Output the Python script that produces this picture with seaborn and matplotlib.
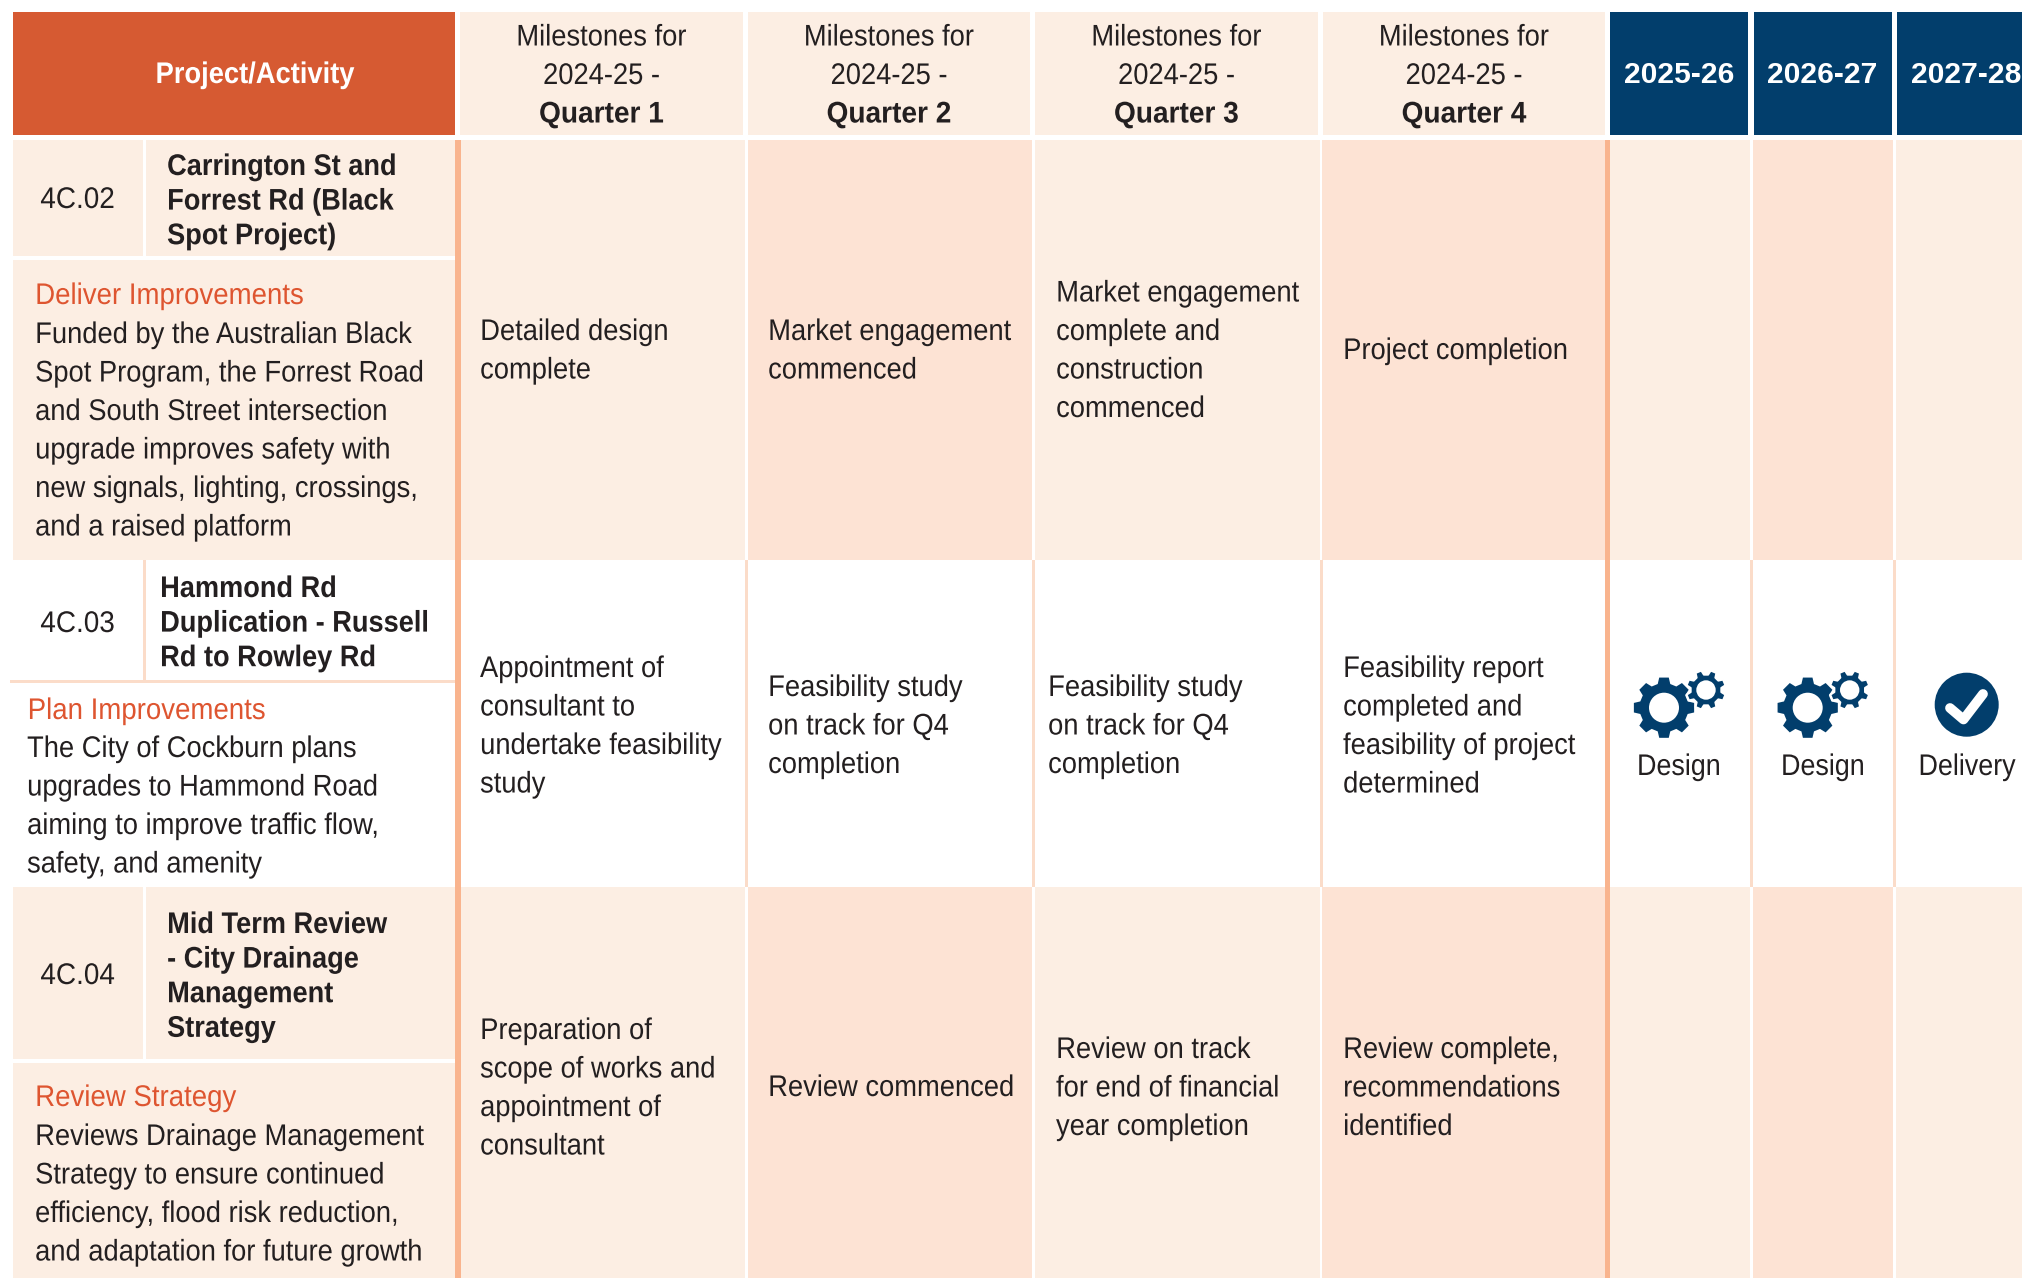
# City project milestones table, drawn on a seaborn heatmap used as the cell background
import numpy as np
import matplotlib
matplotlib.use("Agg")
import matplotlib.pyplot as plt
from matplotlib.colors import ListedColormap
from matplotlib.patches import Polygon, Circle
from matplotlib.patheffects import AbstractPathEffect
from matplotlib.transforms import Affine2D
import seaborn as sns

# Table content
header_left = "Project/Activity"
header_quarters = ["Quarter 1", "Quarter 2", "Quarter 3", "Quarter 4"]
header_intro = ["Milestones for", "2024-25 -"]
header_years = ["2025-26", "2026-27", "2027-28"]

project_ids = ["4C.02", "4C.03", "4C.04"]
project_titles = [
    ["Carrington St and", "Forrest Rd (Black", "Spot Project)"],
    ["Hammond Rd", "Duplication - Russell", "Rd to Rowley Rd"],
    ["Mid Term Review", "- City Drainage", "Management", "Strategy"],
]
project_actions = ["Deliver Improvements", "Plan Improvements", "Review Strategy"]
project_notes = [
    ["Funded by the Australian Black", "Spot Program, the Forrest Road", "and South Street intersection",
     "upgrade improves safety with", "new signals, lighting, crossings,", "and a raised platform"],
    ["The City of Cockburn plans", "upgrades to Hammond Road", "aiming to improve traffic flow,",
     "safety, and amenity"],
    ["Reviews Drainage Management", "Strategy to ensure continued", "efficiency, flood risk reduction,",
     "and adaptation for future growth"],
]
milestones = [
    [["Detailed design", "complete"],
     ["Market engagement", "commenced"],
     ["Market engagement", "complete and", "construction", "commenced"],
     ["Project completion"]],
    [["Appointment of", "consultant to", "undertake feasibility", "study"],
     ["Feasibility study", "on track for Q4", "completion"],
     ["Feasibility study", "on track for Q4", "completion"],
     ["Feasibility report", "completed and", "feasibility of project", "determined"]],
    [["Preparation of", "scope of works and", "appointment of", "consultant"],
     ["Review commenced"],
     ["Review on track", "for end of financial", "year completion"],
     ["Review complete,", "recommendations", "identified"]],
]
year_stages = ["Design", "Design", "Delivery"]

# Layout (pixels of the 2022x1278 picture)
W, H = 2022, 1278
head_top, head_bot = 12, 135
row_edges = [140, 560, 887, 1278]
split_y = [258, 682, 1061]
q_left = [461, 748, 1035, 1322]
q_right = [745, 1032, 1320, 1605]
q_head = [(460, 743), (748, 1030), (1035, 1318), (1323, 1605)]
y_cells = [(1610, 1750), (1753, 1893), (1896, 2022)]
y_head = [(1610, 1748), (1754, 1892), (1897, 2022)]
year_cx = [1679, 1822, 1966]

WHITE, LIGHT, DARK, ORANGE, NAVY, LINE, PALE = range(7)
cell_colors = ["#FFFFFF", "#FCEEE3", "#FDE3D4", "#D65A32", "#023E6C", "#F9B48E", "#FBDCC9"]
INK = "#231F20"
RED = "#DE5530"

codes = np.zeros((H, W), dtype=np.int8)
codes[head_top:head_bot, 13:455] = ORANGE
for a, b in q_head:
    codes[head_top:head_bot, a:b] = LIGHT
for a, b in y_head:
    codes[head_top:head_bot, a:b] = NAVY

for r in range(3):
    top, bot = row_edges[r], row_edges[r + 1]
    shaded = r != 1
    if shaded:
        codes[top:bot, 13:143] = LIGHT
        codes[top:bot, 146:455] = LIGHT
        codes[split_y[r]:bot, 13:455] = LIGHT
        codes[split_y[r] - 2:split_y[r] + 2, 13:455] = WHITE
        for i in range(4):
            codes[top:bot, q_left[i]:q_right[i]] = LIGHT if i % 2 == 0 else DARK
        for i, (a, b) in enumerate(y_cells):
            codes[top:bot, a:b] = LIGHT if i % 2 == 0 else DARK
    else:
        codes[top:split_y[r], 143:146] = PALE
        codes[split_y[r] - 2:split_y[r] + 1, 10:455] = PALE
        for x in [745, 1032, 1320, 1750, 1893]:
            codes[top:bot, x:x + 3] = PALE
    codes[top:bot, 455:461] = LINE
    codes[top:bot, 1605:1610] = LINE

sns.set_theme(style="white")
plt.rcParams["font.family"] = ["Liberation Sans", "DejaVu Sans"]

fig = plt.figure(figsize=(W / 100, H / 100), dpi=100)
ax = fig.add_axes([0, 0, 1, 1])
sns.heatmap(codes, cmap=ListedColormap(cell_colors), vmin=-0.5, vmax=6.5, cbar=False,
            xticklabels=False, yticklabels=False, ax=ax)
ax.set_xlim(0, W)
ax.set_ylim(H, 0)
ax.axis("off")

SIZE = 21.5


# The reference face is a condensed one; none is installed, so squeeze the glyphs sideways
class Narrow(AbstractPathEffect):
    def __init__(self, scale, centered=False):
        super().__init__()
        self.scale = scale
        self.centered = centered

    def draw_path(self, renderer, gc, tpath, affine, rgbFace=None):
        box = affine.transform_path(tpath).get_extents()
        pivot = (box.x0 + box.x1) / 2 if self.centered else box.x0
        squeeze = Affine2D().translate(-pivot, 0).scale(self.scale, 1).translate(pivot, 0)
        renderer.draw_path(gc, tpath, affine + squeeze, rgbFace)


def put(x, y, s, squeeze=0.915, **kw):
    kw.setdefault("fontsize", SIZE)
    kw.setdefault("color", INK)
    kw.setdefault("va", "baseline")
    t = ax.text(x, y, s, clip_on=True, **kw)
    if squeeze != 1:
        t.set_path_effects([Narrow(squeeze, kw.get("ha") == "center")])


def put_lines(x, y0, lines, step=38.5, **kw):
    for i, s in enumerate(lines):
        put(x, y0 + i * step, s, **kw)


def gear(cx, cy, r_out, r_root, r_hole, teeth=8, rot=0.0, halo=0):
    # teeth outline, walking round the wheel with four corners per tooth
    pts = []
    pitch = 2 * np.pi / teeth
    for k in range(teeth):
        base = rot + k * pitch
        for off, r in [(-0.33, r_root), (-0.2, r_out), (0.2, r_out), (0.33, r_root)]:
            ang = base + off * pitch
            pts.append((cx + r * np.cos(ang), cy + r * np.sin(ang)))
    ax.add_patch(Polygon(pts, closed=True, fc=cell_colors[NAVY], ec="white" if halo else "none", lw=halo,
                         joinstyle="round"))
    ax.add_patch(Circle((cx, cy), r_hole, fc="white", ec="none"))


# Header row
put(255, 83, header_left, ha="center", color="white", fontweight="bold")
for i, q in enumerate(header_quarters):
    cx = sum(q_head[i]) / 2
    put_lines(cx, 45.5, header_intro, ha="center")
    put(cx, 122.5, q, ha="center", fontweight="bold", squeeze=0.94)
for cx, y in zip(year_cx, header_years):
    put(cx, 83, y, ha="center", color="white", fontweight="bold", fontsize=21.6, squeeze=1)

# Left column
id_base = [208, 632, 984]
title_x = [167, 160, 167]
title_base = [175, 597, 933]
action_x = [35, 27.5, 35]
action_base = [304, 719, 1106]
note_x = [35, 27, 35]
note_base = [343, 757, 1145]
for r in range(3):
    put(77.5, id_base[r], project_ids[r], ha="center", squeeze=0.935)
    put_lines(title_x[r], title_base[r], project_titles[r], step=34.6, fontweight="bold", squeeze=0.91)
    put(action_x[r], action_base[r], project_actions[r], color=RED, squeeze=0.925)
    put_lines(note_x[r], note_base[r], project_notes[r])

# Milestone cells
cell_x = [
    [480, 768, 1056, 1343],
    [480, 768, 1048, 1343],
    [480, 768, 1056, 1343],
]
cell_base = [
    [340, 340, 301.5, 359],
    [677, 696, 696, 677],
    [1039, 1096, 1058, 1058],
]
for r in range(3):
    for c in range(4):
        put_lines(cell_x[r][c], cell_base[r][c], milestones[r][c])

# Stage icons in the forward plan columns
for dx in [0, 143.7]:
    gear(1664 + dx, 707.7, 30.5, 24.5, 15, rot=-np.pi / 2)
    gear(1706 + dx, 690, 20, 15.5, 9.7, rot=-np.pi / 2 + np.pi / 8, halo=1.5)
ax.add_patch(Circle((1966.7, 704.7), 32, fc=cell_colors[NAVY], ec="none"))
ax.plot([1950, 1963.5, 1983], [708, 719.5, 694], color="white", lw=7, solid_capstyle="round",
        solid_joinstyle="round")
for cx, s in zip([1679, 1823, 1967], year_stages):
    put(cx, 775, s, ha="center", squeeze=0.9)

fig.savefig("out.png", dpi=100)
